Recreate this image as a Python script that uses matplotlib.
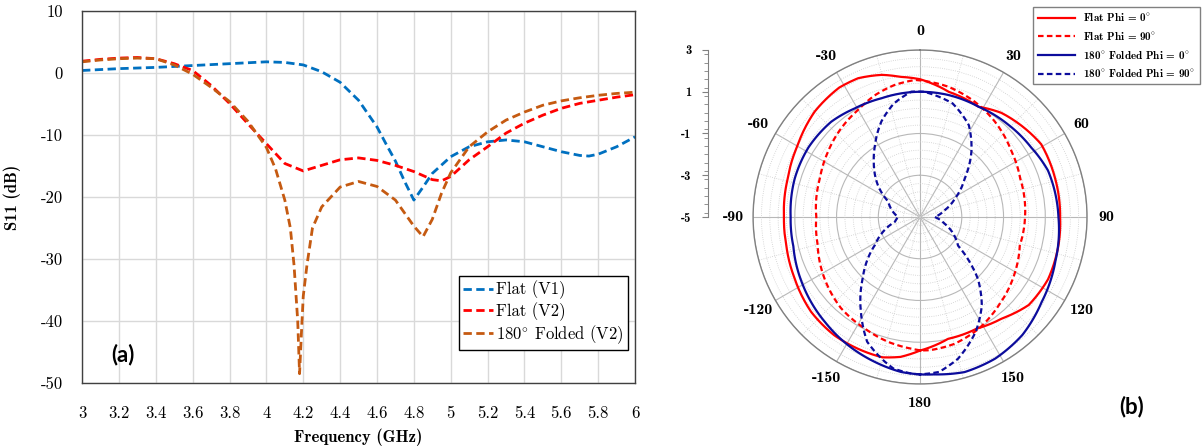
import numpy as np
import matplotlib
matplotlib.use('Agg')
import matplotlib.pyplot as plt
from matplotlib.ticker import MultipleLocator

plt.rcParams['axes.unicode_minus'] = False
plt.rcParams['mathtext.fontset'] = 'cm'

SERIF = ['cmr10', 'DejaVu Serif']
SERIF_B = ['cmb10', 'DejaVu Serif']
DEG = r'$^{\circ}$'

# ---- (a) S11 vs frequency ----
f_v1 = [3.0, 3.2, 3.4, 3.6, 3.8, 4.0, 4.1, 4.2, 4.3, 4.4, 4.5, 4.6, 4.65, 4.7, 4.75, 4.8,
        4.85, 4.9, 5.0, 5.1, 5.2, 5.3, 5.4, 5.5, 5.6, 5.7, 5.75, 5.8, 5.9, 6.0]
s11_flat_v1 = [0.4, 0.7, 0.9, 1.2, 1.5, 1.8, 1.7, 1.3, 0.2, -1.5, -4.4, -8.7, -11.5, -14.2, -17.5, -20.5,
               -18.4, -16.2, -13.5, -11.9, -11.1, -10.8, -11.1, -11.9, -12.7, -13.3, -13.4, -13.1, -11.9, -10.3]

f_v2 = [3.0, 3.1, 3.2, 3.3, 3.4, 3.5, 3.6, 3.7, 3.8, 3.9, 4.0, 4.1, 4.2, 4.3, 4.4, 4.5, 4.6,
        4.7, 4.8, 4.9, 4.95, 5.0, 5.1, 5.2, 5.3, 5.4, 5.5, 5.6, 5.7, 5.8, 5.9, 6.0]
s11_flat_v2 = [1.9, 2.2, 2.4, 2.5, 2.3, 1.5, 0.4, -2.0, -4.9, -8.2, -11.4, -14.6, -15.8, -14.9, -14.0, -13.7, -14.1,
               -14.9, -15.9, -17.2, -17.4, -16.7, -14.0, -11.9, -9.7, -8.1, -6.8, -5.7, -4.9, -4.4, -3.9, -3.5]

f_fold = [3.0, 3.1, 3.2, 3.3, 3.4, 3.5, 3.6, 3.7, 3.8, 3.9, 4.0, 4.05, 4.1, 4.13, 4.15, 4.17, 4.18,
          4.19, 4.2, 4.22, 4.25, 4.3, 4.4, 4.5, 4.6, 4.7, 4.8, 4.85, 4.9, 4.95, 5.0, 5.1, 5.2,
          5.3, 5.4, 5.5, 5.6, 5.7, 5.8, 5.9, 6.0]
s11_fold_v2 = [1.8, 2.1, 2.3, 2.4, 2.3, 1.3, -0.2, -2.3, -4.6, -7.8, -12.0, -15.5, -20.5, -25.0, -31.0, -40.0, -48.5,
               -42.0, -36.0, -31.0, -25.0, -21.6, -18.4, -17.5, -18.3, -20.5, -24.7, -26.4, -23.6, -19.4, -16.1, -11.9, -9.5,
               -7.6, -6.3, -5.2, -4.5, -4.0, -3.6, -3.3, -3.1]

freq_ticks = [3, 3.2, 3.4, 3.6, 3.8, 4, 4.2, 4.4, 4.6, 4.8, 5, 5.2, 5.4, 5.6, 5.8, 6]
freq_labels = ['3', '3.2', '3.4', '3.6', '3.8', '4', '4.2', '4.4', '4.6', '4.8', '5', '5.2', '5.4', '5.6', '5.8', '6']
s11_ticks = [-50, -40, -30, -20, -10, 0, 10]
s11_labels = ['-50', '-40', '-30', '-20', '-10', '0', '10']

# ---- (b) radiation pattern (theta in deg, gain) ----
ang_flat0 = [-180, -172, -165, -155, -144, -131, -116, -102, -90, -74, -60, -45, -32, -24, -15, -8, 0,
             13, 28, 38, 50, 59, 74, 90, 102, 116, 129, 141, 153, 167, 180]
g_flat0 = [1.4, 1.77, 1.96, 1.98, 2.0, 1.92, 1.69, 1.55, 1.52, 1.6, 1.79, 2.14, 2.31, 2.28, 2.05, 1.78, 1.6,
           1.15, 0.98, 1.33, 1.58, 1.77, 1.73, 1.71, 1.77, 1.82, 1.7, 1.25, 1.0, 0.99, 1.4]

ang_flat90 = [-180, -176, -166, -154, -139, -123, -105, -90, -69, -55, -42, -30, -20, -11, -2,
              12, 25, 38, 54, 69, 90, 106, 120, 138, 152, 165, 176, 180]
g_flat90 = [1.39, 1.32, 1.18, 0.97, 0.78, 0.45, 0.08, -0.03, 0.14, 0.4, 0.68, 0.93, 1.23, 1.44, 1.57,
            1.39, 1.12, 0.81, 0.4, 0.14, 0.03, -0.03, 0.26, 0.66, 1.04, 1.3, 1.4, 1.39]

ang_fold0 = [-180, -173, -163, -151, -138, -120, -103, -90, -73, -58, -43, -31, -18, -9, 0,
             13, 28, 44, 58, 70, 90, 108, 125, 139, 152, 164, 175, 180]
g_fold0 = [2.54, 2.48, 2.28, 2.05, 1.79, 1.49, 1.23, 1.2, 1.28, 1.3, 1.24, 1.07, 0.98, 0.99, 1.0,
           1.0, 0.98, 1.12, 1.28, 1.52, 1.63, 1.82, 2.11, 2.48, 2.68, 2.73, 2.57, 2.54]

ang_fold90 = [-180, -177, -170, -165, -157, -148, -137, -122, -101, -90, -64, -53, -40, -32, -22, -13, -4,
              2, 16, 28, 38, 49, 62, 75, 90, 105, 115, 127, 137, 145, 154, 165, 173, 180]
g_fold90 = [2.54, 2.52, 2.37, 2.05, 1.49, 0.35, -0.97, -2.44, -3.77, -3.95, -3.3, -2.47, -1.55, -0.93, -0.06, 0.58, 1.02,
            1.0, 0.66, -0.02, -1.0, -2.16, -3.1, -3.8, -4.3, -3.8, -3.3, -2.72, -0.93, 0.16, 1.1, 2.03, 2.48, 2.54]

theta_ticks = list(range(0, 360, 30))
theta_labels = ['0', '30', '60', '90', '120', '150', '180', '-150', '-120', '-90', '-60', '-30']
r_ticks = [-5, -3, -1, 1, 3]
r_labels = ['-5', '-3', '-1', '1', '3']

fig = plt.figure(figsize=(12.03, 4.48), dpi=100)

# left panel
ax = fig.add_axes([0.0682, 0.1451, 0.4597, 0.8304])
dash = (0, (3, 1.6))
ax.plot(f_v1, s11_flat_v1, color='#0070C0', lw=2, ls=dash, label='Flat (V1)')
ax.plot(f_v2, s11_flat_v2, color='#FF0000', lw=2, ls=dash, label='Flat (V2)')
ax.plot(f_fold, s11_fold_v2, color='#C55A11', lw=2, ls=dash, label='180' + DEG + ' Folded (V2)')
ax.set_xlim(3, 6)
ax.set_ylim(-50, 10)
ax.set_xticks(freq_ticks, freq_labels, fontfamily=SERIF, fontsize=12)
ax.set_yticks(s11_ticks, s11_labels, fontfamily=SERIF, fontsize=12)
ax.tick_params(length=0)
ax.tick_params(axis='x', pad=16)
ax.tick_params(axis='y', pad=14)
ax.grid(color='#d9d9d9', lw=1)
ax.set_axisbelow(True)
for s in ax.spines.values():
    s.set_color('#404040')
    s.set_linewidth(1)
ax.set_xlabel('Frequency (GHz)', fontfamily=SERIF_B, fontsize=12, fontweight='bold', labelpad=6)
ax.set_ylabel('S11 (dB)', fontfamily=SERIF_B, fontsize=12, fontweight='bold', labelpad=14)
leg = ax.legend(loc='lower right', bbox_to_anchor=(0.987, 0.089), borderaxespad=0,
                prop={'family': SERIF, 'size': 12}, fancybox=False, framealpha=1,
                edgecolor='black', handlelength=1.8, handletextpad=0.2, labelspacing=0.15,
                borderpad=0.25)
leg.get_frame().set_linewidth(1)

# right panel (polar)
axp = fig.add_axes([0.626, 0.1429, 0.2776, 0.7455], projection='polar')
axp.set_theta_zero_location('N')
axp.set_theta_direction(-1)
short = (0, (2.5, 1.5))
axp.plot(np.deg2rad(ang_flat0), g_flat0, color='#FF0000', lw=1.6, label='Flat Phi = 0' + DEG)
axp.plot(np.deg2rad(ang_flat90), g_flat90, color='#FF0000', lw=1.6, ls=short, label='Flat Phi = 90' + DEG)
axp.plot(np.deg2rad(ang_fold0), g_fold0, color='#0C0C9C', lw=1.6, label='180' + DEG + ' Folded Phi = 0' + DEG)
axp.plot(np.deg2rad(ang_fold90), g_fold90, color='#0C0C9C', lw=1.6, ls=short,
         label='180' + DEG + ' Folded Phi = 90' + DEG)
# draw the segments as arcs in (theta, r) instead of straight chords
for ln in axp.lines:
    ln.get_path()._interpolation_steps = 24
axp.set_rlim(-5, 3)
axp.set_yticks([-3, -1, 1, 3])
axp.set_yticklabels([])
minor_r = [v for v in np.arange(-4.6, 2.9, 0.4) if abs((v + 5) % 2) > 0.1]
axp.set_yticks(minor_r, minor=True)
axp.set_thetagrids(theta_ticks, theta_labels, fontfamily=SERIF_B, fontsize=11.5, fontweight='bold')
axp.set_xticks(np.deg2rad(np.arange(15, 360, 30)), minor=True)
axp.tick_params(axis='x', pad=7)
axp.tick_params(axis='x', which='both', color='#808080', length=4, direction='in')
axp.grid(which='major', color='#b8b8b8', lw=0.8)
axp.grid(which='minor', color='#cccccc', lw=0.6, ls=':')
axp.spines['polar'].set_color('#808080')
axp.spines['polar'].set_linewidth(1)

# radial scale drawn at the left
axr = fig.add_axes([708 / 1203, (448 - 217) / 448, 0.0005, 167 / 448])
axr.patch.set_visible(False)
axr.set_ylim(-5, 3)
for s in ['top', 'right', 'bottom']:
    axr.spines[s].set_visible(False)
axr.spines['left'].set_color('#808080')
axr.set_xticks([])
axr.set_yticks(r_ticks, r_labels, fontfamily=SERIF_B, fontsize=9, fontweight='bold')
axr.yaxis.set_minor_locator(MultipleLocator(0.4))
axr.tick_params(axis='y', which='major', color='#808080', length=4, pad=8)
axr.tick_params(axis='y', which='minor', color='#808080', length=3)

h, l = axp.get_legend_handles_labels()
leg2 = fig.legend(h, l, loc='upper right', bbox_to_anchor=(1200 / 1203, 1 - 7 / 448), borderaxespad=0,
                  prop={'family': SERIF_B, 'size': 8, 'weight': 'bold'}, fancybox=False, framealpha=1,
                  edgecolor='#808080', handlelength=3.3, handletextpad=0.8, labelspacing=0.6,
                  borderpad=0.4)

fig.text(123 / 1203, 1 - 355 / 448, '(a)', ha='center', va='center', fontsize=16, fontweight='bold', family='Lato')
fig.text(1132 / 1203, 1 - 407 / 448, '(b)', ha='center', va='center', fontsize=16, fontweight='bold', family='Lato')

fig.savefig('out.png', dpi=100)
